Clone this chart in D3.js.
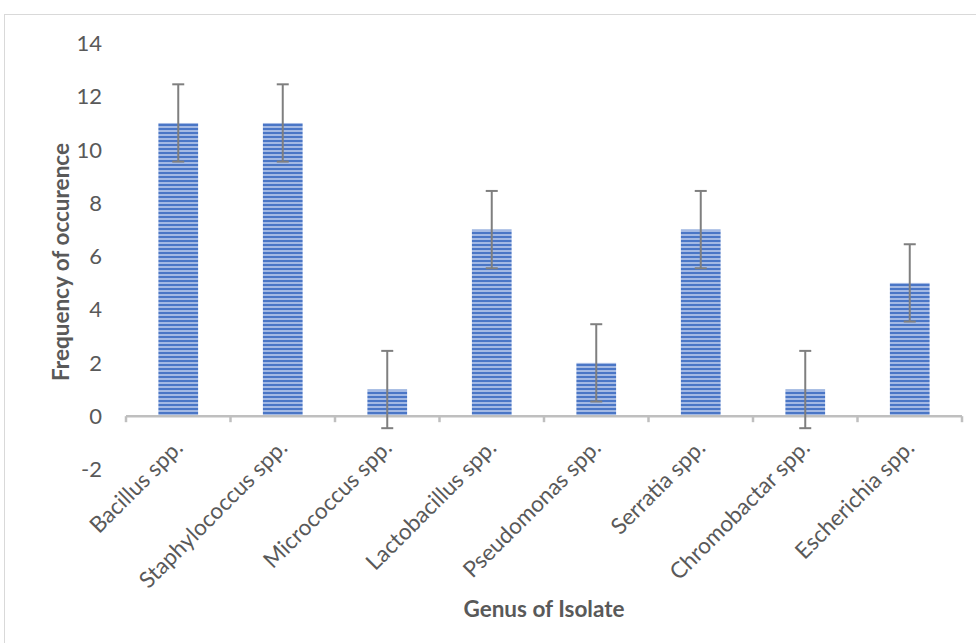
<!DOCTYPE html>
<html><head><meta charset="utf-8">
<script src="https://cdn.jsdelivr.net/npm/d3@7"></script>
<style>body{margin:0;background:#fff;} text{font-family:Lato,"Open Sans",sans-serif;}</style>
</head><body>
<svg id="c" width="976" height="643"></svg>
<script>
const categories = ["Bacillus spp.","Staphylococcus spp.","Micrococcus spp.","Lactobacillus spp.","Pseudomonas spp.","Serratia spp.","Chromobactar spp.","Escherichia spp."];
const values = [11, 11, 1, 7, 2, 7, 1, 5];
const errors = [1.45, 1.45, 1.45, 1.45, 1.45, 1.45, 1.45, 1.45];
const yTicks = [-2, 0, 2, 4, 6, 8, 10, 12, 14];

const svg = d3.select("#c");
const defs = svg.append("defs");
const pat = defs.append("pattern").attr("id","stripes").attr("patternUnits","userSpaceOnUse")
  .attr("width",8).attr("height",4);
pat.append("rect").attr("width",8).attr("height",4).attr("fill","#a3b9e4");
pat.append("rect").attr("y",0).attr("width",8).attr("height",2).attr("fill","#4a76c6");

// outer frame
svg.append("rect").attr("x",4.5).attr("y",14.5).attr("width",990).attr("height",660)
  .attr("fill","none").attr("stroke","#d9d9d9");

const x = d3.scaleBand().domain(categories).range([126, 962]).paddingInner(0.62).paddingOuter(0.31);
const y = d3.scaleLinear().domain([-2, 14]).range([469.5, 43]);

const xTickPos = d3.range(categories.length+1).map(i => 126 + i*(962-126)/categories.length);

// y labels
svg.append("g").selectAll("text").data(yTicks).join("text")
  .attr("x",102).attr("y",d=>y(d)).attr("dy","0.36em").attr("text-anchor","end")
  .attr("font-size",22).attr("fill","#595959").text(d=>d);

// bars
svg.append("g").selectAll("rect").data(values).join("rect")
  .attr("x",(d,i)=>x(categories[i])).attr("width",x.bandwidth())
  .attr("y",d=>y(Math.max(0,d))).attr("height",d=>Math.abs(y(d)-y(0)))
  .attr("fill","url(#stripes)");

// axis line
const ax = svg.append("g");
ax.append("line").attr("x1",126).attr("x2",962).attr("y1",y(0)).attr("y2",y(0))
  .attr("stroke","#bfbfbf").attr("stroke-width",2.5);
ax.selectAll("line.t").data(xTickPos).join("line").attr("class","t")
  .attr("x1",d=>d).attr("x2",d=>d).attr("y1",y(0)).attr("y2",y(0)+6)
  .attr("stroke","#bfbfbf").attr("stroke-width",2.5);

// error bars
const eb = svg.append("g").attr("stroke","#7f7f7f").attr("stroke-width",2);
values.forEach((v,i)=>{
  const cx = x(categories[i]) + x.bandwidth()/2;
  eb.append("line").attr("x1",cx).attr("x2",cx).attr("y1",y(v+errors[i])).attr("y2",y(v-errors[i]));
  [v+errors[i], v-errors[i]].forEach(e=>{
    eb.append("line").attr("x1",cx-6).attr("x2",cx+6).attr("y1",y(e)).attr("y2",y(e));
  });
});

// category labels
svg.append("g").selectAll("text").data(categories).join("text")
  .attr("transform",d=>`translate(${x(d)+x.bandwidth()/2+6},${y(0)+33}) rotate(-45)`)
  .attr("text-anchor","end").attr("font-size",22.5).attr("fill","#595959").text(d=>d);

// axis titles
svg.append("text").attr("x",544).attr("y",617).attr("text-anchor","middle")
  .attr("font-size",22.5).attr("font-weight","bold").attr("fill","#595959").text("Genus of Isolate");
svg.append("text").attr("transform","translate(69,262) rotate(-90)").attr("text-anchor","middle")
  .attr("font-size",22.5).attr("font-weight","bold").attr("fill","#595959").text("Frequency of occurence");
</script>
</body></html>
